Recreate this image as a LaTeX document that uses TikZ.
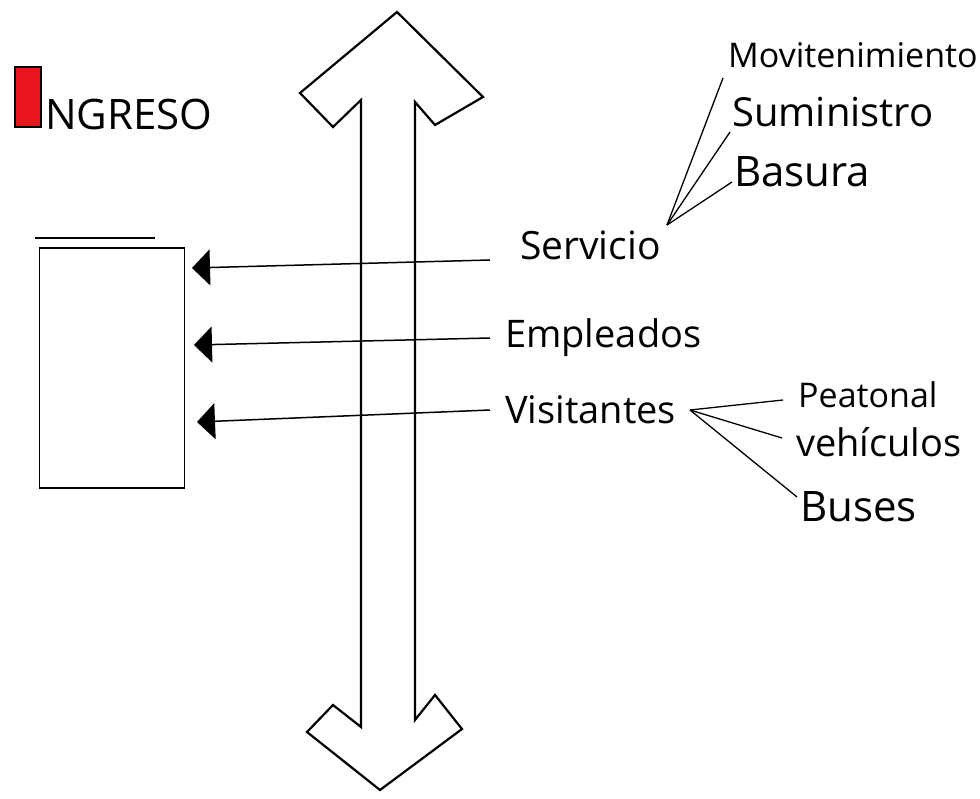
\documentclass[tikz,border=0pt]{standalone}
\usepackage{fontspec}
\setmainfont{Open Sans}
\usetikzlibrary{arrows.meta,positioning}
\definecolor{ingresored}{RGB}{232,22,28}

\begin{document}
\begin{tikzpicture}[x=1pt,y=-1pt,
  tag/.style={font=\fontsize{#1}{#1}\selectfont,inner sep=0pt,anchor=west},
  tag/.default=38,
  leader/.style={line width=1.3pt},
  flow/.style={line width=1.5pt,-{Triangle[length=18pt,width=36pt]}}]
  \useasboundingbox (0,0) rectangle (980,799);
  % ingreso
  \node[draw,fill=ingresored,line width=1.6pt,minimum width=26pt,minimum height=60pt,inner sep=0pt] (ingreso) at (28,97) {};
  \node[tag=42,anchor=south west] (ingresotxt) at ([xshift=3pt,yshift=-2pt]ingreso.south east) {NGRESO};
  % building
  \node[draw,line width=1.5pt,minimum width=145pt,minimum height=240pt,inner sep=0pt] (bldg) at (112,368) {};
  \draw[line width=1.2pt] (35,238) -- (155,238);
  % double arrow (circulation axis)
  \draw[line width=2.2pt,line join=miter] (361,727) -- (361,100) -- (333,127) -- (300,93) -- (397,12)
    -- (483,97) -- (435,125) -- (415,102) -- (415,720) -- (435,695) -- (462,729) -- (380,790)
    -- (307,732) -- (333,705) -- cycle;
  % users
  \node[tag=39] (servicio) at (520,245) {Servicio};
  \node[tag] (empleados) at (505,338) {Empleados};
  \node[tag] (visitantes) at (505,410) {Visitantes};
  \coordinate (in1) at (192,268);
  \coordinate (in2) at (194,345);
  \coordinate (in3) at (197,422);
  \draw[flow] ([xshift=-30pt,yshift=-15pt]servicio.west) -- (in1);
  \draw[flow] ([xshift=-15pt]empleados.west) -- (in2);
  \draw[flow] ([xshift=-15pt]visitantes.west) -- (in3);
  % servicio branches
  \node[tag=34] (mant) at (728,55) {Movitenimiento};
  \node[tag=40] (sumin) at (732,112) {Suministro};
  \node[tag=42] (basura) at (734,172) {Basura};
  \coordinate (svhub) at (667,225);
  \draw[leader] (svhub) -- ([xshift=-5pt,yshift=-23pt]mant.west);
  \draw[leader] (svhub) -- ([xshift=-2pt,yshift=-20pt]sumin.west);
  \draw[leader] (svhub) -- ([xshift=-2pt,yshift=-10pt]basura.west);
  % visitantes branches
  \node[tag=34] (peatonal) at (798,395) {Peatonal};
  \node[tag=38] (vehiculos) at (796,442) {vehículos};
  \node[tag=42] (buses) at (800,507) {Buses};
  \coordinate (vhub) at (690,410);
  \draw[leader] (vhub) -- ([xshift=-15pt,yshift=-5pt]peatonal.west);
  \draw[leader] (vhub) -- ([xshift=-14pt,yshift=4pt]vehiculos.west);
  \draw[leader] (vhub) -- ([xshift=-3pt,yshift=10pt]buses.west);
\end{tikzpicture}
\end{document}
